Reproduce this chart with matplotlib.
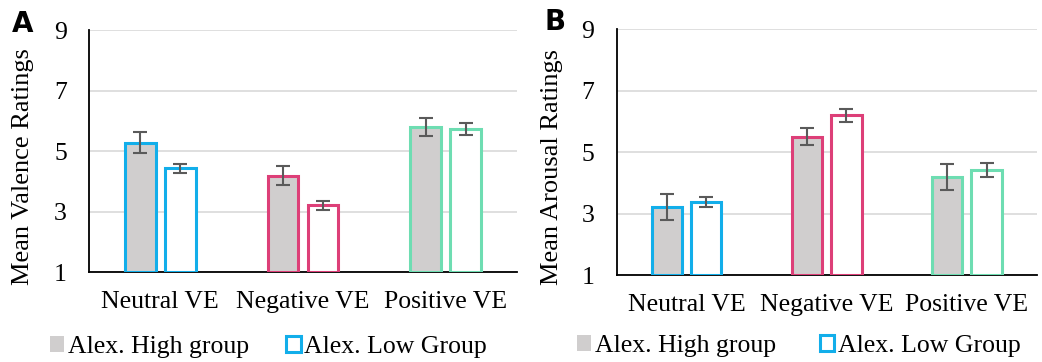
import numpy as np
import matplotlib
matplotlib.use("Agg")
import matplotlib.pyplot as plt
from matplotlib.patches import Patch

categories = ["Neutral VE", "Negative VE", "Positive VE"]
groups = ["Alex. High group", "Alex. Low Group"]

# panel A - valence
valence_high = [5.28, 4.18, 5.78]
valence_high_err = [0.35, 0.31, 0.30]
valence_low = [4.43, 3.21, 5.72]
valence_low_err = [0.15, 0.15, 0.19]

# panel B - arousal
arousal_high = [3.22, 5.50, 4.20]
arousal_high_err = [0.42, 0.28, 0.42]
arousal_low = [3.38, 6.20, 4.42]
arousal_low_err = [0.15, 0.22, 0.22]

cat_colors = ["#12AEEA", "#DD3F78", "#6EDDB2"]
gray = "#D0CECE"
err_color = "#5A5A5A"

plt.rcParams['font.family'] = ['Liberation Serif', 'DejaVu Serif']

fig = plt.figure(figsize=(10.42, 3.62), dpi=100)
axA = fig.add_axes([0.0854, 0.2486, 0.4107, 0.6685])
axB = fig.add_axes([0.5918, 0.2403, 0.4034, 0.6787])


def draw(ax, high, high_err, low, low_err, ylabel, label_xy, leg_xy, colsp):
    x = np.arange(len(categories))
    w = 0.215
    off = 0.14
    ax.bar(x - off, [h - 1 for h in high], bottom=1, width=w, color=gray,
           edgecolor=cat_colors, linewidth=2.2, zorder=3)
    ax.bar(x + off, [v - 1 for v in low], bottom=1, width=w, color="white",
           edgecolor=cat_colors, linewidth=2.2, zorder=3)
    ax.errorbar(x - off, high, yerr=high_err, fmt="none", ecolor=err_color,
                elinewidth=1.5, capsize=5, capthick=1.5, zorder=4)
    ax.errorbar(x + off, low, yerr=low_err, fmt="none", ecolor=err_color,
                elinewidth=1.5, capsize=5, capthick=1.5, zorder=4)
    ax.set_xlim(-0.5, 2.5)
    ax.set_ylim(1, 9)
    ax.set_yticks([1, 3, 5, 7, 9])
    ax.set_xticks(x)
    ax.set_xticklabels(categories)
    ax.tick_params(axis="both", length=0, labelsize=18.5)
    ax.tick_params(axis="y", pad=16)
    ax.tick_params(axis="x", pad=14)
    ax.grid(axis="y", color="#D9D9D9", linewidth=1.2, zorder=0)
    ax.set_axisbelow(True)
    for s in ["top", "right"]:
        ax.spines[s].set_visible(False)
    ax.spines["left"].set_linewidth(1.3)
    ax.spines["bottom"].set_linewidth(1.3)
    ax.set_ylabel(ylabel, fontsize=19)
    ax.yaxis.set_label_coords(*label_xy)

    handles = [Patch(facecolor=gray, edgecolor=gray, linewidth=0),
               Patch(facecolor="white", edgecolor=cat_colors[0], linewidth=2.2)]
    ax.legend(handles, groups, loc="center left", bbox_to_anchor=leg_xy,
              ncol=2, frameon=False, fontsize=18.5, handlelength=0.55,
              handleheight=0.55, handletextpad=0.15, columnspacing=colsp,
              borderpad=0, borderaxespad=0)


draw(axA, valence_high, valence_high_err, valence_low, valence_low_err,
     "Mean Valence Ratings", (-0.128, 0.434), (-0.091, -0.31), 1.45)
draw(axB, arousal_high, arousal_high_err, arousal_low, arousal_low_err,
     "Mean Arousal Ratings", (-0.128, 0.44), (-0.094, -0.29), 1.7)

fig.text(0.022, 0.935, "A", fontsize=20, fontweight="bold", family="DejaVu Sans",
         ha="center", va="center")
fig.text(0.533, 0.94, "B", fontsize=20, fontweight="bold", family="DejaVu Sans",
         ha="center", va="center")

fig.savefig("out.png", dpi=100)
